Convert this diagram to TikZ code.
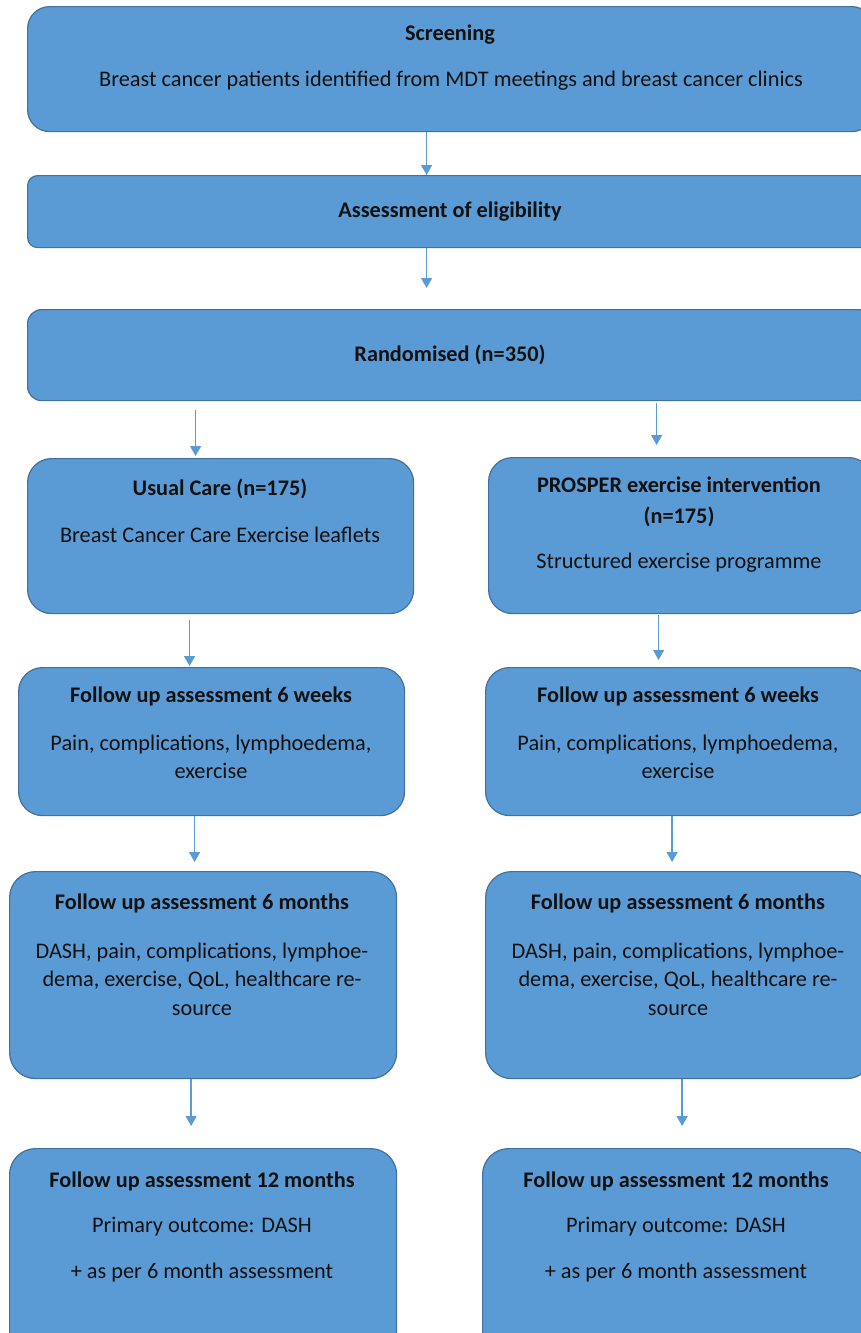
\documentclass[tikz,border=0pt]{standalone}
\usepackage{fontspec}
\setmainfont{Carlito}
\usetikzlibrary{arrows.meta}
\definecolor{boxfill}{HTML}{5B9BD5}
\definecolor{boxedge}{HTML}{41719C}
\definecolor{txt}{HTML}{111111}
\begin{document}
\begin{tikzpicture}[x=1pt,y=-1pt,
  box/.style={draw=boxedge,fill=boxfill,line width=1.2pt,rounded corners=#1,
    anchor=north west,inner sep=0pt},
  lbl/.style={text=txt,font=\fontsize{22.3}{28.5}\selectfont,align=center,inner sep=0pt},
  hd/.style={lbl,font=\fontsize{22.3}{31}\selectfont\bfseries},
  arr/.style={draw=boxfill,line width=1.3pt,-{Triangle[width=11pt,length=10pt]}}]
\useasboundingbox (0,0) rectangle (861,1333);
\begin{scope}
\clip (0,0) rectangle (861,1333);
% boxes
\node[box=22pt,minimum width=846pt,minimum height=125pt] (scr) at (27,6) {};
\node[box=10pt,minimum width=846pt,minimum height=72pt] (elig) at (27,175) {};
\node[box=14pt,minimum width=846pt,minimum height=91pt] (rand) at (27,309) {};
\node[box=24pt,minimum width=386pt,minimum height=155pt] (uc) at (27,458) {};
\node[box=24pt,minimum width=384pt,minimum height=156pt] (pe) at (488,457) {};
\node[box=24pt,minimum width=386pt,minimum height=148pt] (wl) at (18,667) {};
\node[box=24pt,minimum width=387pt,minimum height=148pt] (wr) at (485,667) {};
\node[box=26pt,minimum width=387pt,minimum height=207pt] (ml) at (9,871) {};
\node[box=26pt,minimum width=387pt,minimum height=207pt] (mr) at (485,871) {};
\node[box=26pt,minimum width=387pt,minimum height=210pt] (yl) at (9,1148) {};
\node[box=26pt,minimum width=390pt,minimum height=210pt] (yr) at (482,1148) {};
\end{scope}
% texts
\node[hd] (t1) at (450,35) {Screening};
\node[lbl] (t2) at (451,81) {Breast cancer patients identified from MDT meetings and breast cancer clinics};
\node[hd] (t3) at (450,212) {Assessment of eligibility};
\node[hd] (t4) at (450,355) {Randomised (n=350)};
\node[hd] (t5) at (220,489) {Usual Care (n=175)};
\node[lbl] (t6) at (220,535) {Breast Cancer Care Exercise leaflets};
\node[hd] (t7) at (679,502) {PROSPER exercise intervention\\(n=175)};
\node[lbl] (t8) at (679,563) {Structured exercise programme};
\node[hd] (t9) at (211,696) {Follow up assessment 6 weeks};
\node[lbl] (t10) at (211,757) {Pain, complications, lymphoedema,\\exercise};
\node[hd] (t11) at (678,696) {Follow up assessment 6 weeks};
\node[lbl] (t12) at (678,757) {Pain, complications, lymphoedema,\\exercise};
\node[hd] (t13) at (202,903) {Follow up assessment 6 months};
\node[lbl] (t14) at (202,979) {DASH, pain, complications, lymphoe-\\dema, exercise, QoL, healthcare re-\\source};
\node[hd] (t15) at (678,903) {Follow up assessment 6 months};
\node[lbl] (t16) at (678,979) {DASH, pain, complications, lymphoe-\\dema, exercise, QoL, healthcare re-\\source};
\node[hd] (t17) at (202,1181) {Follow up assessment 12 months};
\node[lbl] (t18) at (202,1227) {Primary outcome: DASH};
\node[lbl] (t19) at (202,1273) {+ as per 6 month assessment};
\node[hd] (t20) at (676,1181) {Follow up assessment 12 months};
\node[lbl] (t21) at (676,1227) {Primary outcome: DASH};
\node[lbl] (t22) at (676,1273) {+ as per 6 month assessment};
% arrows
\draw[arr] ([xshift=-24pt]scr.south) -- ([xshift=-24pt]elig.north);
\draw[arr,shorten >=21pt] ([xshift=-24pt]elig.south) -- ([xshift=-24pt]rand.north);
\draw[arr,shorten <=9pt,shorten >=2pt] ([xshift=-25pt]uc.north |- rand.south) -- ([xshift=-25pt]uc.north);
\draw[arr,shorten <=2pt,shorten >=12pt] ([xshift=-24pt]pe.north |- rand.south) -- ([xshift=-24pt]pe.north);
\draw[arr,shorten <=6pt,shorten >=1pt] ([xshift=-31pt]uc.south) -- ([xshift=-31pt]uc.south |- wl.north);
\draw[arr,shorten <=1pt,shorten >=7pt] ([xshift=-22pt]pe.south) -- ([xshift=-22pt]pe.south |- wr.north);
\draw[arr,shorten >=9pt] ([xshift=-17pt]wl.south) -- ([xshift=-17pt]wl.south |- ml.north);
\draw[arr,shorten >=9pt] ([xshift=-7pt]wr.south) -- ([xshift=-7pt]wr.south |- mr.north);
\draw[arr,shorten >=22pt] ([xshift=-12pt]ml.south) -- ([xshift=-12pt]ml.south |- yl.north);
\draw[arr,shorten >=22pt] ([xshift=3pt]mr.south) -- ([xshift=3pt]mr.south |- yr.north);
\end{tikzpicture}
\end{document}
